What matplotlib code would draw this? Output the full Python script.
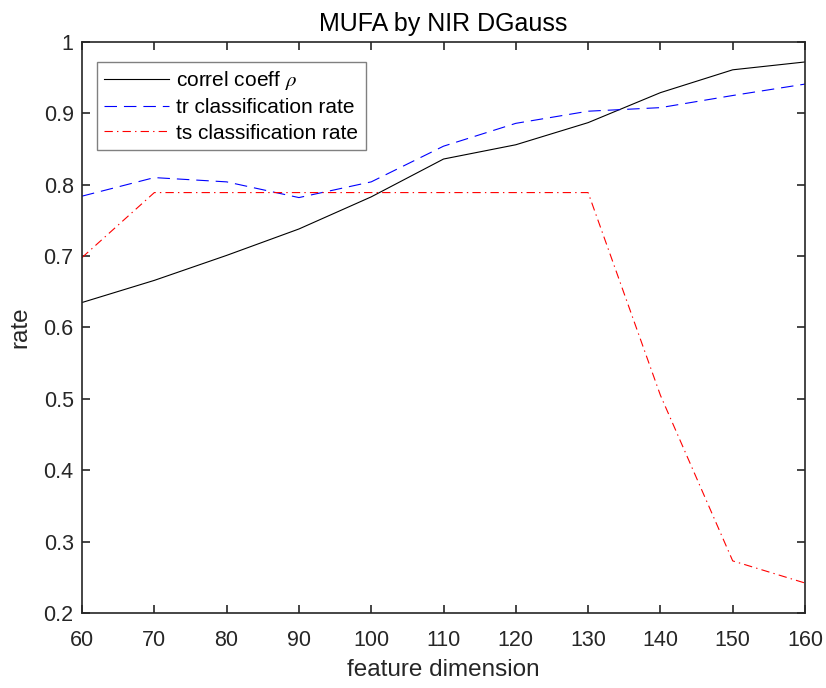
import matplotlib
matplotlib.use("Agg")
import matplotlib.pyplot as plt

# values
dims = [60, 70, 80, 90, 100, 110, 120, 130, 140, 150, 160]
correl = [0.635, 0.666, 0.701, 0.738, 0.783, 0.836, 0.856, 0.887, 0.929, 0.961, 0.972]
tr_rate = [0.784, 0.810, 0.804, 0.782, 0.804, 0.854, 0.886, 0.903, 0.908, 0.925, 0.941]
ts_rate = [0.698, 0.789, 0.789, 0.789, 0.789, 0.789, 0.789, 0.789, 0.505, 0.273, 0.242]

plt.rcParams["font.family"] = ["Liberation Sans", "DejaVu Sans"]
plt.rcParams["mathtext.fontset"] = "stix"
plt.rcParams["lines.scale_dashes"] = False
AX_COL = "#262626"

fig = plt.figure(figsize=(8.26, 6.88), dpi=100)
ax = fig.add_axes([0.0993, 0.109, 0.8753, 0.830])

ax.plot(dims, correl, color="black", lw=0.8, label=r"correl coeff $\rho$")
ax.plot(dims, tr_rate, color="blue", lw=0.8, dashes=(9, 5), label="tr classification rate")
ax.plot(dims, ts_rate, color="red", lw=0.8, dashes=(6, 3, 1, 3), label="ts classification rate")

ax.set_xlim(60, 160)
ax.set_ylim(0.2, 1.0)
ax.set_xticks(range(60, 161, 10))
ax.set_yticks([0.2, 0.3, 0.4, 0.5, 0.6, 0.7, 0.8, 0.9, 1.0])
ax.set_yticklabels(["0.2", "0.3", "0.4", "0.5", "0.6", "0.7", "0.8", "0.9", "1"])
ax.tick_params(direction="in", top=True, right=True, length=6, width=1.2,
               labelsize=15.5, colors=AX_COL, labelcolor=AX_COL, pad=6)
ax.tick_params(axis="x", pad=12)
for s in ax.spines.values():
    s.set_color(AX_COL)
    s.set_linewidth(1.2)

ax.set_xlabel("feature dimension", fontsize=17.5, color=AX_COL, labelpad=6)
ax.set_ylabel("rate", fontsize=17.5, color=AX_COL, labelpad=9)
ax.set_title("MUFA by NIR DGauss", fontsize=18, color="black", pad=8)

leg = ax.legend(loc="upper left", bbox_to_anchor=(0.021, 0.965), borderaxespad=0,
                fontsize=15, fancybox=False, framealpha=1, edgecolor="#808080",
                handlelength=3.1, borderpad=0.35, labelspacing=0.3, handletextpad=0.35)
leg.get_frame().set_linewidth(1.0)

fig.savefig("out.png", dpi=100)
